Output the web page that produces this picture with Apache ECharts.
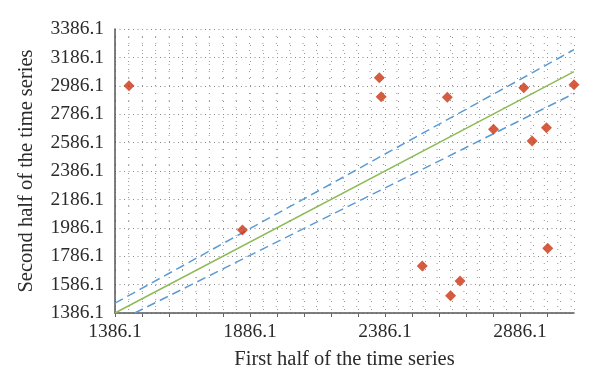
<!DOCTYPE html>
<html>
<head>
<meta charset="utf-8">
<script src="https://cdn.jsdelivr.net/npm/echarts@6/dist/echarts.min.js"></script>
<style>html,body{margin:0;padding:0;background:#fff}#c{width:600px;height:387px}</style>
</head>
<body>
<div id="c"></div>
<script>
// First half (x) vs second half (y) of the time series
var firstHalf  = [1438, 1858, 2365, 2372, 2617, 2900, 3086, 2788, 2984, 2931, 2989, 2524, 2664, 2629];
var secondHalf = [2986, 1970, 3043, 2909, 2905, 2973, 2994, 2680, 2691, 2597, 1842, 1717, 1611, 1508];
// Reference lines: y = x and +/-5% bands (endpoints)
var equalLine = [[1386.1, 1386.1], [3086.1, 3086.1]];
var upperBand = [[1386.1, 1455.4], [3086.1, 3240.4]];
var lowerBand = [[1459.1, 1386.1], [3086.1, 2931.8]];
var xMin = 1386.1, xMax = 3086.1, xStep = 100, xLabelStep = 500;
var yMin = 1386.1, yMax = 3386.1, yStep = 200;
var xTitle = 'First half of the time series';
var yTitle = 'Second half of the time series';

var points = firstHalf.map(function (x, i) { return [x, secondHalf[i]]; });
var font = '"Liberation Serif", "DejaVu Serif", serif';
var textColor = '#2b2b2b';

var chart = echarts.init(document.getElementById('c'), null, {renderer: 'canvas'});
chart.setOption({
  animation: false,
  grid: {left: 115, right: 26, top: 29, bottom: 74, containLabel: false},
  xAxis: {
    type: 'value', min: xMin, max: xMax, interval: xStep,
    name: xTitle, nameLocation: 'middle', nameGap: 36,
    nameTextStyle: {fontFamily: font, fontSize: 20.5, color: textColor},
    axisLine: {show: true, lineStyle: {color: '#555', width: 1.5}},
    axisTick: {show: true, length: 4, lineStyle: {color: '#666'}},
    axisLabel: {
      fontFamily: font, fontSize: 19.5, color: textColor, margin: 9,
      showMaxLabel: false,
      formatter: function (v) {
        var k = (v - xMin) / xLabelStep;
        return Math.abs(k - Math.round(k)) < 1e-6 ? v.toFixed(1) : '';
      }
    },
    splitLine: {show: true, lineStyle: {color: '#999', type: [1, 7], width: 1}},
    minorTick: {show: false, splitNumber: 2},
    minorSplitLine: {show: true, lineStyle: {color: '#999', type: [1, 7], width: 1}}
  },
  yAxis: {
    type: 'value', min: yMin, max: yMax, interval: yStep,
    name: yTitle, nameLocation: 'middle', nameGap: 78,
    nameTextStyle: {fontFamily: font, fontSize: 20.5, color: textColor},
    axisLine: {show: true, lineStyle: {color: '#555', width: 1.5}},
    axisTick: {show: false},
    axisLabel: {
      fontFamily: font, fontSize: 19.5, color: textColor, margin: 11,
      formatter: function (v) { return v.toFixed(1); }
    },
    splitLine: {show: true, lineStyle: {color: '#888', type: [1, 3.5], width: 1}},
    minorTick: {show: false, splitNumber: 4},
    minorSplitLine: {show: true, lineStyle: {color: '#999', type: [1, 12.4], width: 1}}
  },
  series: [
    {type: 'line', data: upperBand, symbol: 'none', clip: true,
     lineStyle: {color: '#5b9bd5', width: 1.5, type: [9, 5]}, z: 3},
    {type: 'line', data: lowerBand, symbol: 'none', clip: true,
     lineStyle: {color: '#5b9bd5', width: 1.5, type: [9, 5]}, z: 3},
    {type: 'line', data: equalLine, symbol: 'none', clip: true,
     lineStyle: {color: '#8dbb5a', width: 1.5}, z: 3},
    {type: 'scatter', data: points, symbol: 'diamond', symbolSize: 11,
     itemStyle: {color: '#cc3311'}, z: 5}
  ]
});
</script>
</body>
</html>
